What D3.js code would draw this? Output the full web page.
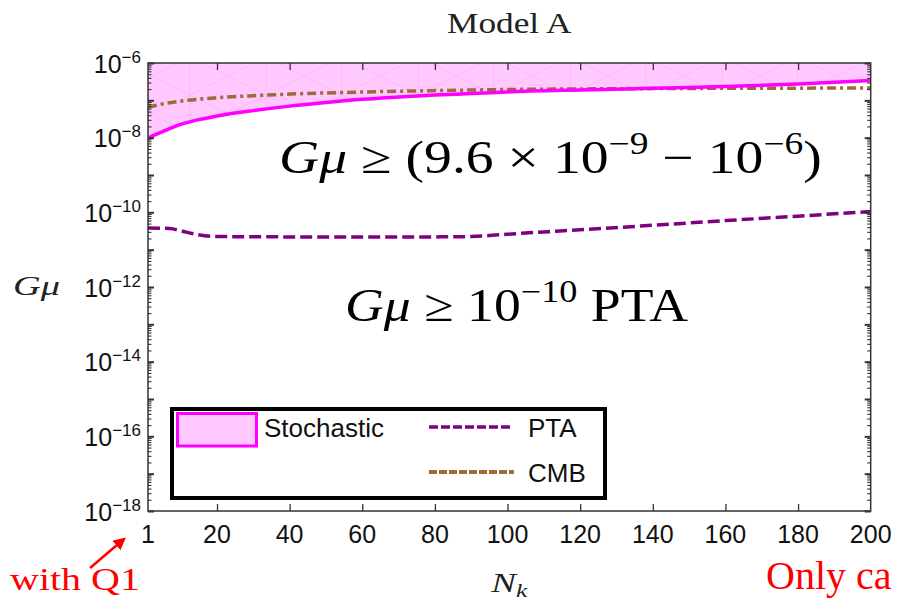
<!DOCTYPE html>
<html>
<head>
<meta charset="utf-8">
<script src="https://cdn.jsdelivr.net/npm/d3@7"></script>
<style>
  html, body { margin: 0; padding: 0; background: #fff; }
  svg { display: block; }
</style>
</head>
<body>
<svg id="chart" width="897" height="600"></svg>
<script>
// ---- data -------------------------------------------------------------
// Stochastic gravitational-wave bound (lower edge of the excluded band)
const nkStochastic  = [1, 3, 5, 9, 14, 20, 30, 40, 50, 60, 70, 80, 90, 100, 120, 140, 160, 180, 200];
const gmuStochastic = [9.6e-9, 1.2e-8, 1.45e-8, 2.1e-8, 2.9e-8, 3.8e-8, 5.3e-8, 7.0e-8, 8.8e-8, 1.07e-7,
                       1.23e-7, 1.38e-7, 1.52e-7, 1.68e-7, 1.9e-7, 2.1e-7, 2.35e-7, 2.75e-7, 3.4e-7];
// Pulsar timing array bound
const nkPTA  = [1, 7, 10, 14, 20, 40, 60, 80, 90, 100, 120, 140, 160, 180, 200];
const gmuPTA = [3.8e-11, 3.7e-11, 3.2e-11, 2.6e-11, 2.25e-11, 2.2e-11, 2.2e-11, 2.2e-11, 2.25e-11,
                2.6e-11, 3.4e-11, 4.5e-11, 6.0e-11, 7.9e-11, 1.05e-10];
// CMB bound
const nkCMB  = [1, 5, 10, 20, 30, 40, 60, 80, 100, 120, 140, 160, 180, 200];
const gmuCMB = [6.5e-8, 8.0e-8, 9.5e-8, 1.17e-7, 1.33e-7, 1.47e-7, 1.67e-7, 1.82e-7, 1.95e-7,
                2.02e-7, 2.06e-7, 2.1e-7, 2.12e-7, 2.15e-7];

const xTickValues = [1, 20, 40, 60, 80, 100, 120, 140, 160, 180, 200];
const yTickExponents = [-6, -8, -10, -12, -14, -16, -18];
const legendLabels = ["Stochastic", "PTA", "CMB"];

// ---- layout -----------------------------------------------------------
const svg = d3.select("#chart");
const plot = { left: 148, right: 870.7, top: 63, bottom: 511 };

const x = d3.scaleLinear().domain([1, 200]).range([plot.left, plot.right]);
const y = d3.scaleLog().domain([1e-18, 1e-6]).range([plot.bottom, plot.top]);

const colStoch = "#ff00ff", colFill = "#ffc8ff", colPTA = "#800080", colCMB = "#a0693a";
const sans = "'Liberation Sans', Arial, sans-serif";
const serif = "'Liberation Serif', 'Times New Roman', serif";

// faint mesh texture inside the shaded band
const defs = svg.append("defs");
defs.append("clipPath").attr("id", "plotClip")
  .append("rect").attr("x", plot.left).attr("y", plot.top)
  .attr("width", plot.right - plot.left).attr("height", plot.bottom - plot.top);
const pat = defs.append("pattern").attr("id", "mesh").attr("patternUnits", "userSpaceOnUse")
  .attr("width", 76).attr("height", 38);
pat.append("rect").attr("width", 76).attr("height", 38).attr("fill", colFill);
pat.append("path").attr("d", "M0,38 L76,0 M0,0 L76,38 M38,0 L38,38")
  .attr("stroke", "#f7aef7").attr("stroke-width", 0.6).attr("fill", "none");

const g = svg.append("g").attr("clip-path", "url(#plotClip)");

// shaded excluded region: from the stochastic curve up to the top of the frame
const stochPts = nkStochastic.map((n, i) => [n, gmuStochastic[i]]);
const area = d3.area()
  .x(d => x(d[0])).y0(plot.top - 2).y1(d => y(d[1]))
  .curve(d3.curveMonotoneX);
g.append("path").datum(stochPts).attr("d", area).attr("fill", "url(#mesh)");

const line = d3.line().x(d => x(d[0])).y(d => y(d[1])).curve(d3.curveMonotoneX);

// CMB (dot-dashed)
g.append("path").datum(nkCMB.map((n, i) => [n, gmuCMB[i]]))
  .attr("d", line).attr("fill", "none")
  .attr("stroke", colCMB).attr("stroke-width", 3.5)
  .attr("stroke-dasharray", "9,4,3,4");

// PTA (dashed)
g.append("path").datum(nkPTA.map((n, i) => [n, gmuPTA[i]]))
  .attr("d", line).attr("fill", "none")
  .attr("stroke", colPTA).attr("stroke-width", 3.5)
  .attr("stroke-dasharray", "12,5");

// stochastic (solid)
g.append("path").datum(stochPts)
  .attr("d", line).attr("fill", "none")
  .attr("stroke", colStoch).attr("stroke-width", 3.5);

// ---- frame and ticks --------------------------------------------------
const axisCol = "#333";
svg.append("rect")
  .attr("x", plot.left).attr("y", plot.top)
  .attr("width", plot.right - plot.left).attr("height", plot.bottom - plot.top)
  .attr("fill", "none").attr("stroke", axisCol).attr("stroke-width", 1.5);

// x ticks (bottom and top, pointing inward)
const xInner = xTickValues.filter(v => v > 1 && v < 200);
const xAxisBottom = d3.axisBottom(x).tickValues(xInner).tickSize(-7).tickFormat("");
const xAxisTop = d3.axisTop(x).tickValues(xInner).tickSize(-7).tickFormat("");
svg.append("g").attr("transform", `translate(0,${plot.bottom})`).call(xAxisBottom)
  .call(s => s.select(".domain").remove())
  .call(s => s.selectAll("line").attr("stroke", axisCol).attr("stroke-width", 1.3));
svg.append("g").attr("transform", `translate(0,${plot.top})`).call(xAxisTop)
  .call(s => s.select(".domain").remove())
  .call(s => s.selectAll("line").attr("stroke", axisCol).attr("stroke-width", 1.3));

// x tick labels
svg.append("g").selectAll("text").data(xTickValues).join("text")
  .attr("x", d => x(d)).attr("y", 543)
  .attr("text-anchor", "middle")
  .attr("font-family", sans).attr("font-size", 25).attr("fill", "#111")
  .text(d => d);

// y ticks: decade ticks and minor log ticks on both sides
const majorY = d3.range(-18, -5).map(e => Math.pow(10, e));
const minorY = [];
d3.range(-18, -6).forEach(e => { for (let m = 2; m <= 9; m++) minorY.push(m * Math.pow(10, e)); });
const yAxisLeftMajor = d3.axisLeft(y).tickValues(majorY).tickSize(-6).tickFormat("");
const yAxisLeftMinor = d3.axisLeft(y).tickValues(minorY).tickSize(-3.5).tickFormat("");
const yAxisRightMajor = d3.axisRight(y).tickValues(majorY).tickSize(-6).tickFormat("");
const yAxisRightMinor = d3.axisRight(y).tickValues(minorY).tickSize(-3.5).tickFormat("");
[[yAxisLeftMajor, plot.left, 2], [yAxisLeftMinor, plot.left, 1.1],
 [yAxisRightMajor, plot.right, 2], [yAxisRightMinor, plot.right, 1.1]].forEach(([ax, tx, w]) => {
  svg.append("g").attr("transform", `translate(${tx},0)`).call(ax)
    .call(s => s.select(".domain").remove())
    .call(s => s.selectAll("line").attr("stroke", axisCol).attr("stroke-width", w));
});

// y tick labels as 10^n
const yLab = svg.append("g").selectAll("text").data(yTickExponents).join("text")
  .attr("x", 141).attr("y", d => y(Math.pow(10, d)) + 9.5)
  .attr("text-anchor", "end")
  .attr("font-family", sans).attr("font-size", 25).attr("fill", "#111");
yLab.append("tspan").text("10");
yLab.append("tspan").attr("dy", -10).attr("font-size", 17).text(d => "\u2212" + Math.abs(d));

// ---- titles and axis labels ------------------------------------------
function fitWidth(sel, x0, width) {
  const bb = sel.node().getBBox();
  const k = width / bb.width;
  sel.attr("transform", `translate(${x0 - bb.x * k},0) scale(${k},1)`);
}

const title = svg.append("text").attr("x", 0).attr("y", 33)
  .attr("font-family", serif).attr("font-size", 30).attr("fill", "#222").text("Model A");
fitWidth(title, 447, 125);

const yLabel = svg.append("text").attr("x", 0).attr("y", 295)
  .attr("font-family", serif).attr("font-style", "italic").attr("font-size", 28).attr("fill", "#222")
  .text("G\u03bc");
fitWidth(yLabel, 13, 47);

const xLabel = svg.append("text").attr("x", 0).attr("y", 592)
  .attr("font-family", serif).attr("font-style", "italic").attr("font-size", 28).attr("fill", "#222");
xLabel.append("tspan").text("N");
xLabel.append("tspan").attr("dy", 5).attr("font-size", 19).text("k");
fitWidth(xLabel, 490, 38);

// ---- annotations ------------------------------------------------------
const ann1 = svg.append("text").attr("x", 0).attr("y", 173)
  .attr("font-family", serif).attr("font-size", 46).attr("fill", "#000");
ann1.append("tspan").attr("font-style", "italic").text("G\u03bc");
ann1.append("tspan").text(" \u2265 (9.6 \u00d7 10");
ann1.append("tspan").attr("dy", -19).attr("font-size", 31).text("\u22129");
ann1.append("tspan").attr("dy", 19).text(" \u2212 10");
ann1.append("tspan").attr("dy", -19).attr("font-size", 31).text("\u22126");
ann1.append("tspan").attr("dy", 19).text(")");
fitWidth(ann1, 279, 543);

const ann2 = svg.append("text").attr("x", 0).attr("y", 321)
  .attr("font-family", serif).attr("font-size", 46).attr("fill", "#000");
ann2.append("tspan").attr("font-style", "italic").text("G\u03bc");
ann2.append("tspan").text(" \u2265 10");
ann2.append("tspan").attr("dy", -19).attr("font-size", 31).text("\u221210");
ann2.append("tspan").attr("dy", 19).text(" PTA");
fitWidth(ann2, 345, 343);

// ---- legend -----------------------------------------------------------
const lg = svg.append("g");
lg.append("rect").attr("x", 172).attr("y", 409).attr("width", 433).attr("height", 89)
  .attr("fill", "#fff").attr("stroke", "#000").attr("stroke-width", 4);
lg.append("rect").attr("x", 177.5).attr("y", 413.5).attr("width", 79).attr("height", 32.5)
  .attr("fill", colFill).attr("stroke", colStoch).attr("stroke-width", 3);
lg.append("text").attr("x", 264).attr("y", 437)
  .attr("font-family", sans).attr("font-size", 26).attr("fill", "#111").text(legendLabels[0]);
lg.append("line").attr("x1", 429).attr("x2", 513).attr("y1", 427).attr("y2", 427)
  .attr("stroke", colPTA).attr("stroke-width", 3.5).attr("stroke-dasharray", "9,3");
lg.append("text").attr("x", 528).attr("y", 437)
  .attr("font-family", sans).attr("font-size", 26).attr("fill", "#111").text(legendLabels[1]);
lg.append("line").attr("x1", 429).attr("x2", 514).attr("y1", 472).attr("y2", 472)
  .attr("stroke", colCMB).attr("stroke-width", 4).attr("stroke-dasharray", "8,2");
lg.append("text").attr("x", 528).attr("y", 482)
  .attr("font-family", sans).attr("font-size", 26).attr("fill", "#111").text(legendLabels[2]);

// ---- red notes along the bottom ------------------------------------------
const red = "#ff0000";
defs.append("marker").attr("id", "arrowHead").attr("viewBox", "0 0 10 10")
  .attr("refX", 8).attr("refY", 5).attr("markerWidth", 5).attr("markerHeight", 5)
  .attr("orient", "auto")
  .append("path").attr("d", "M0,0 L10,5 L0,10 Z").attr("fill", red);
svg.append("line").attr("x1", 90).attr("y1", 568).attr("x2", 124).attr("y2", 539)
  .attr("stroke", red).attr("stroke-width", 2.5).attr("marker-end", "url(#arrowHead)");

const note1 = svg.append("text").attr("x", 0).attr("y", 590)
  .attr("font-family", serif).attr("font-size", 32).attr("fill", red).text("with Q1");
fitWidth(note1, 10, 130);
svg.append("text").attr("x", 766).attr("y", 589)
  .attr("font-family", serif).attr("font-size", 40).attr("fill", red).text("Only ca");
</script>
</body>
</html>
